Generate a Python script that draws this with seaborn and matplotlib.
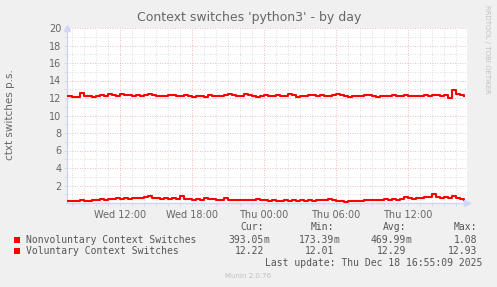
import numpy as np
import pandas as pd
import matplotlib
matplotlib.use("Agg")
import matplotlib.pyplot as plt
import matplotlib.dates as mdates
from matplotlib.patches import Rectangle
import seaborn as sns

# ---------------- data ----------------
title = "Context switches 'python3' - by day"
ylabel = "ctxt switches p.s."
series_names = ["Nonvoluntary Context Switches", "Voluntary Context Switches"]
start_time = "2025-12-17 07:40"
step_minutes = 20
view_start = "2025-12-17 07:35"
view_end = "2025-12-18 16:55"
xtick_times = ["2025-12-17 12:00", "2025-12-17 18:00", "2025-12-18 00:00",
               "2025-12-18 06:00", "2025-12-18 12:00"]
xtick_labels = ["Wed 12:00", "Wed 18:00", "Thu 00:00", "Thu 06:00", "Thu 12:00"]
yticks = [2, 4, 6, 8, 10, 12, 14, 16, 18, 20]

nonvoluntary = [0.2, 0.25, 0.2, 0.3, 0.22, 0.28, 0.35, 0.3, 0.42, 0.38,
                0.5, 0.45, 0.55, 0.48, 0.6, 0.5, 0.55, 0.62, 0.52, 0.65,
                0.82, 0.6, 0.55, 0.5, 0.58, 0.5, 0.55, 0.48, 0.78, 0.5,
                0.45, 0.4, 0.45, 0.38, 0.55, 0.42, 0.45, 0.35, 0.4, 0.55,
                0.4, 0.38, 0.35, 0.4, 0.3, 0.38, 0.35, 0.5, 0.35, 0.3,
                0.25, 0.3, 0.28, 0.25, 0.3, 0.28, 0.35, 0.25, 0.3, 0.28,
                0.32, 0.25, 0.3, 0.35, 0.3, 0.45, 0.3, 0.22, 0.25, 0.17,
                0.25, 0.22, 0.28, 0.25, 0.3, 0.35, 0.3, 0.4, 0.35, 0.42,
                0.38, 0.45, 0.4, 0.5, 0.7, 0.55, 0.5, 0.6, 0.55, 0.65,
                0.7, 1.05, 0.65, 0.6, 0.7, 0.55, 0.75, 0.6, 0.5, 0.39]
voluntary = [12.2, 12.15, 12.1, 12.55, 12.25, 12.2, 12.1, 12.2, 12.4, 12.25,
             12.45, 12.3, 12.2, 12.5, 12.3, 12.35, 12.25, 12.3, 12.2, 12.3,
             12.45, 12.3, 12.25, 12.2, 12.25, 12.3, 12.4, 12.25, 12.2, 12.3,
             12.2, 12.15, 12.25, 12.2, 12.15, 12.3, 12.2, 12.2, 12.25, 12.3,
             12.45, 12.3, 12.2, 12.25, 12.5, 12.3, 12.25, 12.1, 12.2, 12.4,
             12.25, 12.2, 12.3, 12.25, 12.2, 12.45, 12.3, 12.15, 12.2, 12.25,
             12.4, 12.3, 12.2, 12.4, 12.25, 12.2, 12.35, 12.5, 12.3, 12.2,
             12.15, 12.2, 12.25, 12.2, 12.4, 12.3, 12.2, 12.15, 12.25, 12.2,
             12.25, 12.4, 12.25, 12.2, 12.35, 12.25, 12.2, 12.2, 12.25, 12.4,
             12.25, 12.4, 12.3, 12.2, 12.35, 12.01, 12.93, 12.45, 12.3, 12.22]

stats_headers = ["Cur:", "Min:", "Avg:", "Max:"]
stats_nonvol = [("393.05", "m"), ("173.39", "m"), ("469.99", "m"), ("1.08", "")]
stats_vol = [("12.22", ""), ("12.01", ""), ("12.29", ""), ("12.93", "")]
last_update = "Last update: Thu Dec 18 16:55:09 2025"
munin_version = "Munin 2.0.76"
rrd_credit = "RRDTOOL / TOBI OETIKER"
line_color = "#FF0000"

# ---------------- build frame ----------------
times = pd.date_range(start_time, periods=len(voluntary), freq=f"{step_minutes}min")
df = pd.concat([
    pd.DataFrame({"time": times, "value": nonvoluntary, "series": series_names[0]}),
    pd.DataFrame({"time": times, "value": voluntary, "series": series_names[1]}),
])

W, H = 497, 287
fig = plt.figure(figsize=(W / 100, H / 100), dpi=100, facecolor="#F0F0F0")
def fx(px): return px / W
def fy(py): return 1 - py / H

left, right, top, bottom = 67, 467, 28, 203
ax = fig.add_axes([fx(left), fy(bottom), (right - left) / W, (bottom - top) / H])
ax.set_facecolor("white")

sns.lineplot(data=df, x="time", y="value", hue="series",
             palette={series_names[0]: line_color, series_names[1]: line_color},
             legend=False, linewidth=1.5, ax=ax, zorder=5, drawstyle="steps-post")

ax.set_xlim(pd.Timestamp(view_start), pd.Timestamp(view_end))
ax.set_ylim(0, 20)
ax.set_xticks([pd.Timestamp(t) for t in xtick_times])
ax.set_xticklabels(xtick_labels)
ax.xaxis.set_minor_locator(mdates.HourLocator())
ax.set_yticks(yticks)
ax.set_yticks(np.arange(1, 20, 1), minor=True)
ax.set_xlabel("")
ax.set_ylabel("")

ax.grid(which="minor", color="#D2D2D2", linestyle=(0, (1, 2)), linewidth=0.6, zorder=0)
ax.grid(which="major", color="#EDA6A6", linestyle=(0, (1, 2)), linewidth=0.6, zorder=0)
ax.set_axisbelow(True)

for s in ["top", "right"]:
    ax.spines[s].set_visible(False)
for s in ["left", "bottom"]:
    ax.spines[s].set_color("#CFD6F8")
    ax.spines[s].set_linewidth(1.0)

txt = "#666666"
ax.tick_params(axis="both", which="both", colors="#CFD6F8", labelcolor=txt,
               labelsize=7, length=2, width=0.6)
ax.tick_params(axis="y", pad=2)
ax.tick_params(axis="x", pad=3)

# arrows
ax.plot([0], [1.0], marker="^", color="#CFD6F8", markersize=5, clip_on=False,
        transform=ax.transAxes, zorder=6)
ax.plot([1.0], [0], marker=">", color="#CFD6F8", markersize=5, clip_on=False,
        transform=ax.transAxes, zorder=6)

# titles
fig.text(fx(249), fy(18), title, ha="center", va="center", fontsize=9, color=txt)
fig.text(fx(10), fy(115), ylabel, ha="center", va="center", rotation=90,
         fontsize=7.5, color=txt)
fig.text(fx(487), fy(5), rrd_credit, ha="center", va="top", rotation=270,
         fontsize=5, color="#C0C0C0")

# legend
mono = "DejaVu Sans Mono"
lc = "#555555"
fs = 7
col_right = [264, 334, 406, 477]
row_y = [240, 251]
for cx, h in zip(col_right, stats_headers):
    fig.text(fx(cx), fy(227), h, ha="right", va="center", family=mono, fontsize=fs, color=lc)
for ry, name, stats in zip(row_y, series_names, [stats_nonvol, stats_vol]):
    fig.patches.append(Rectangle((fx(14), fy(ry + 3)), 6 / W, 6 / H,
                                 transform=fig.transFigure, facecolor=line_color,
                                 edgecolor="none"))
    fig.text(fx(26), fy(ry), name, ha="left", va="center", family=mono, fontsize=fs, color=lc)
    for cx, (num, suf) in zip(col_right, stats):
        fig.text(fx(cx), fy(ry), num, ha="right", va="center", family=mono, fontsize=fs, color=lc)
        if suf:
            fig.text(fx(cx), fy(ry), suf, ha="left", va="center", family=mono, fontsize=fs, color=lc)
fig.text(fx(482), fy(263), last_update, ha="right", va="center", family=mono,
         fontsize=fs, color=lc)
fig.text(fx(248), fy(276), munin_version, ha="center", va="center", fontsize=5,
         color="#C0C0C0")

fig.savefig("out.png", dpi=100, facecolor=fig.get_facecolor())
